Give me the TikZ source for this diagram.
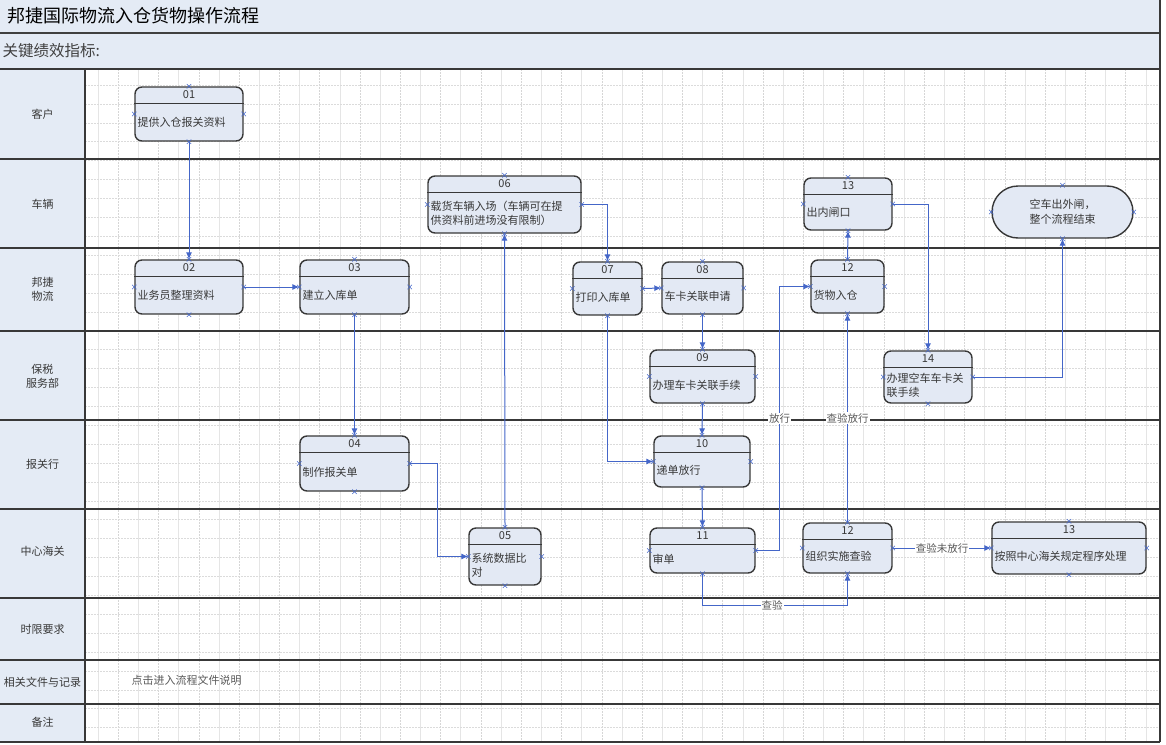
\documentclass[tikz,border=0pt]{standalone}
\usepackage{fontspec}
\setmainfont{Noto Sans CJK SC}
\usetikzlibrary{arrows.meta,shapes.misc}

\definecolor{bandblue}{HTML}{E4EBF5}
\definecolor{boxblue}{HTML}{E3E9F4}
\definecolor{linkblue}{HTML}{4466C8}
\definecolor{lanegray}{HTML}{383838}

\begin{document}
\begin{tikzpicture}[x=1pt,y=-1pt,
    flowbox/.style={draw=lanegray, line width=1.4pt, fill=boxblue, rounded corners=7pt, inner sep=0pt},
    link/.style={draw=linkblue, line width=1pt, -{Latex[length=7pt,width=6pt]}},
    linklabel/.style={fill=white, inner sep=1pt, font=\fontsize{10.5}{12}\selectfont, text=black!65},
    boxtext/.style={font=\fontsize{11}{14}\selectfont, align=left, inner sep=0pt, anchor=west, text=lanegray},
    lanelabel/.style={font=\fontsize{11}{14}\selectfont, align=center, text=lanegray},
    cpoint/.style={cross out, draw=linkblue, line width=0.5pt, minimum size=4pt, inner sep=0pt}]
        \useasboundingbox (0,0) rectangle (1166,744);
        % bands
        \fill [bandblue] (0,0) rectangle (1160,69);
        \fill [bandblue] (0,69) rectangle (85,742);
        % grid
        \foreach \k in {0,2,...,52} \draw [gray!20, line width=0.5pt] ({98+20.15*\k},69) -- ({98+20.15*\k},742);
        \foreach \k in {1,3,...,51} \draw [gray!32, line width=0.5pt, dash pattern=on 2pt off 1pt] ({98+20.15*\k},69) -- ({98+20.15*\k},742);
        \foreach \k in {0,...,34} \draw [gray!28, line width=0.5pt, dash pattern=on 2pt off 1pt] (85,{85+18.9*\k}) -- (1160,{85+18.9*\k});
        % lanes
        \draw [gray!50!black, line width=1.6pt] (0,33) -- (1160,33);
        \foreach \y in {69,159,248,331,420,509,598,660,704,742} \draw [lanegray, line width=1.2pt] (0,\y) -- (1160,\y);
        \draw [lanegray, line width=1.2pt] (85,69) -- (85,742);
        \draw [lanegray, line width=1.2pt] (1160,0) -- (1160,742);
        \node [anchor=west, font=\fontsize{18}{20}\selectfont] (title) at (4,16) {邦捷国际物流入仓货物操作流程};
        \node [anchor=west, font=\fontsize{15.5}{18}\selectfont, text=black!75] (kpi) at (-1,51) {关键绩效指标:};
        \node [lanelabel] (lkh) at (42.5,114) {客户};
        \node [lanelabel] (lcl) at (42.5,204) {车辆};
        \node [lanelabel, align=left] (lbj) at (42.5,289) {邦捷\\物流};
        \node [lanelabel] (lbs) at (42.5,376) {保税\\服务部};
        \node [lanelabel] (lbg) at (42.5,464) {报关行};
        \node [lanelabel] (lhg) at (42.5,551) {中心海关};
        \node [lanelabel] (lsx) at (42.5,629) {时限要求};
        \node [lanelabel] (lwj) at (42.5,682) {相关文件与记录};
        \node [lanelabel] (lbz) at (42.5,722) {备注};
        \node [anchor=west, font=\fontsize{11}{14}\selectfont, text=black!65] (doc) at (128,680) {点击进入流程文件说明};
        % steps
        \foreach \name/\cx/\cy/\w/\h/\no/\txt in {
            b01/189/114/108/54/01/提供入仓报关资料,
            b02/189/287/108/54/02/业务员整理资料,
            b03/354.5/287/109/54/03/建立入库单,
            b04/354.5/463.5/109/55/04/制作报关单,
            b05/505/556.5/72/57/05/系统数据比\\对,
            b06/504.5/204.5/153/57/06/载货车辆入场（车辆可在提\\供资料前进场没有限制）,
            b07/607.5/288.5/69/53/07/打印入库单,
            b08/702.5/288/81/52/08/车卡关联申请,
            b09/702.5/376.5/105/53/09/办理车卡关联手续,
            b10/702/461.5/96/51/10/递单放行,
            b11/702.5/550.5/105/45/11/审单,
            b12u/847.5/286.5/73/53/12/货物入仓,
            b13u/848/204/88/52/13/出内闸口,
            b14/928/377/88/52/14/办理空车车卡关\\联手续,
            b12d/847.5/548/89/50/12/组织实施查验,
            b13d/1069/548/154/52/13/按照中心海关规定程序处理}{
            \node [flowbox, minimum width=\w, minimum height=\h] (\name) at (\cx,\cy) {};
            \draw [lanegray, line width=1.4pt] ([yshift=-17pt]\name.north west) -- ([yshift=-17pt]\name.north east);
            \node [font=\fontsize{11}{12}\selectfont, text=lanegray] at ([yshift=-8.5pt]\name.north) {\no};
            \node [boxtext] at ([xshift=3pt,yshift=-8.5pt]\name.west) {\txt};
            \foreach \a in {north,south,east,west} \node [cpoint] at (\name.\a) {};
        }
        \node [flowbox, rounded corners=26pt, minimum width=141, minimum height=52, align=center, font=\fontsize{11}{15}\selectfont, text=lanegray] (bend) at (1062.5,212) {空车出外闸，\\整个流程结束};
        \foreach \a in {north,south,east,west} \node [cpoint] at (bend.\a) {};
        % links
        \draw [link] (b01.south) -- (b02.north);
        \draw [link] (b02.east) -- (b03.west);
        \draw [link] (b03.south) -- (b04.north);
        \draw [link] (b04.east) -- ++(28,0) |- (b05.west);
        \draw [link] (b05.north) -- (b06.south);
        \draw [link] (b06.east) -| (b07.north);
        \draw [link] (b07.east) -- (b08.west);
        \draw [link] (b07.south) |- (b10.west);
        \draw [link] (b08.south) -- (b09.north);
        \draw [link] (b09.south) -- (b10.north);
        \draw [link] (b10.south) -- (b11.north);
        \draw [link] (b11.east) -- ++(24,0) |- node [linklabel, pos=0.25] {放行} (b12u.west);
        \draw [link] (b11.south) -- ++(0,32) -| node [linklabel, pos=0.24] {查验} (b12d.south);
        \draw [link] (b12d.north) -- node [linklabel, pos=0.5] {查验放行} (b12u.south);
        \draw [link] (b12d.east) -- node [linklabel] {查验未放行} (b13d.west);
        \draw [link] (b12u.north) -- (b13u.south);
        \draw [link] (b13u.east) -| (b14.north);
        \draw [link] (b14.east) -| (bend.south);
    \end{tikzpicture}
\end{document}
